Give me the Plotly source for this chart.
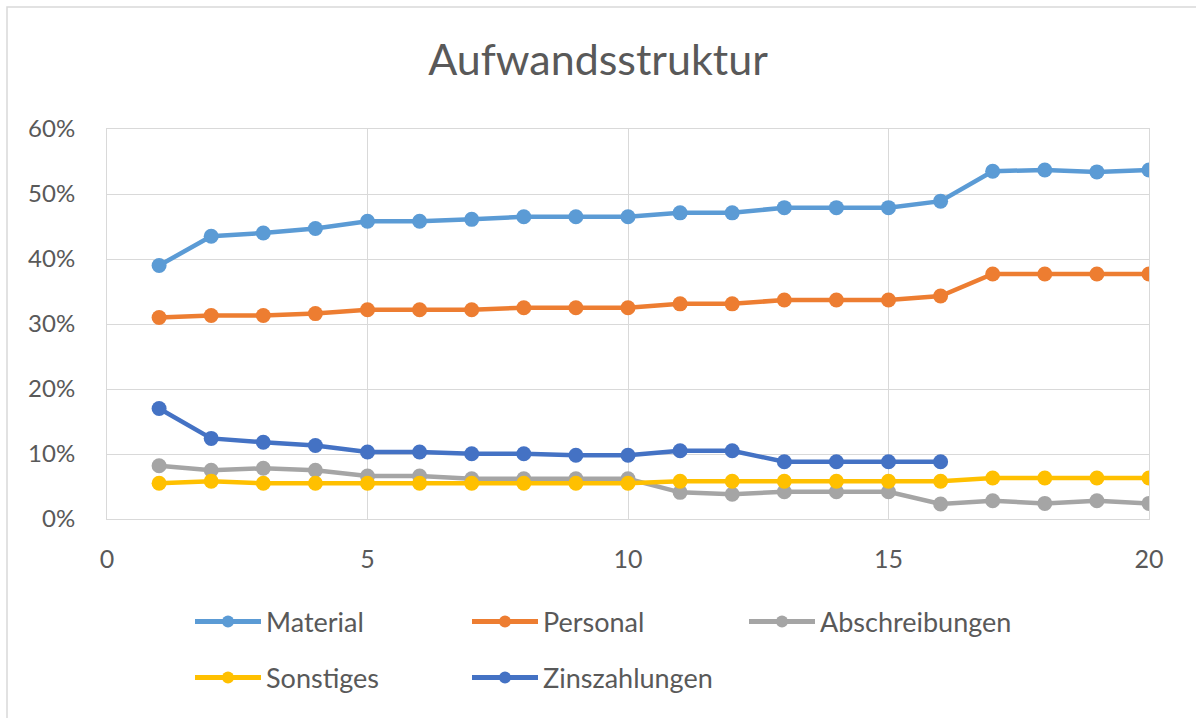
import plotly.graph_objects as go

x_vals = list(range(1, 21))

material = [39.0, 43.5, 44.0, 44.7, 45.8, 45.8, 46.1, 46.5, 46.5, 46.5,
            47.1, 47.1, 47.9, 47.9, 47.9, 48.9, 53.5, 53.7, 53.4, 53.7]
personal = [31.0, 31.3, 31.3, 31.6, 32.2, 32.2, 32.2, 32.5, 32.5, 32.5,
            33.1, 33.1, 33.7, 33.7, 33.7, 34.3, 37.7, 37.7, 37.7, 37.7]
abschreibungen = [8.2, 7.5, 7.8, 7.5, 6.6, 6.6, 6.2, 6.2, 6.2, 6.2,
                  4.1, 3.8, 4.2, 4.2, 4.2, 2.3, 2.8, 2.4, 2.8, 2.4]
sonstiges = [5.5, 5.8, 5.5, 5.5, 5.5, 5.5, 5.5, 5.5, 5.5, 5.5,
             5.8, 5.8, 5.8, 5.8, 5.8, 5.8, 6.3, 6.3, 6.3, 6.3]
zinszahlungen = [17.0, 12.4, 11.8, 11.3, 10.3, 10.3, 10.05, 10.05, 9.8, 9.8,
                 10.5, 10.5, 8.8, 8.8, 8.8, 8.8]

x_ticks = [0, 5, 10, 15, 20]
y_ticks = [0, 10, 20, 30, 40, 50, 60]
y_tick_labels = ["0%", "10%", "20%", "30%", "40%", "50%", "60%"]

series = [
    ("Material", material, "#5B9BD5", "legend"),
    ("Personal", personal, "#ED7D31", "legend"),
    ("Abschreibungen", abschreibungen, "#A5A5A5", "legend"),
    ("Sonstiges", sonstiges, "#FFC000", "legend2"),
    ("Zinszahlungen", zinszahlungen, "#4472C4", "legend2"),
]

FONT = "Lato"
TXT = "#595959"
GRID = "#D9D9D9"

fig = go.Figure()
draw_order = ["Abschreibungen", "Sonstiges", "Zinszahlungen", "Personal", "Material"]
lookup = {s[0]: s for s in series}
for name in draw_order:
    n, vals, col, lg = lookup[name]
    fig.add_trace(go.Scatter(
        x=x_vals[:len(vals)], y=vals, mode="lines+markers", name=n,
        line=dict(color=col, width=4.5), marker=dict(color=col, size=15),
        showlegend=False, hoverinfo="x+y+name"))

for n, vals, col, lg in series:
    fig.add_trace(go.Scatter(
        x=[None], y=[None], mode="lines+markers", name=n,
        line=dict(color=col, width=5), marker=dict(color=col, size=12),
        showlegend=True, legend=lg))

legend_common = dict(orientation="h", xref="container", yref="container",
                     xanchor="left", yanchor="middle",
                     itemwidth=66, entrywidth=196, entrywidthmode="pixels",
                     font=dict(size=27, color=TXT, family=FONT),
                     bgcolor="rgba(0,0,0,0)")

fig.update_layout(
    width=1196, height=718,
    paper_bgcolor="white", plot_bgcolor="white",
    margin=dict(l=107, r=47, t=129, b=199),
    font=dict(family=FONT, color=TXT, size=24),
    title=dict(text="Aufwandsstruktur", x=0.5, xanchor="center",
               y=1 - 60 / 718, yanchor="middle",
               font=dict(family=FONT, size=43, color=TXT)),
    xaxis=dict(range=[0, 20], tickmode="array", tickvals=x_ticks, showgrid=True,
               gridcolor=GRID, gridwidth=1, zeroline=False, showline=True,
               linecolor=GRID, linewidth=1, mirror=True, ticks="",
               ticklabelstandoff=18, tickfont=dict(size=25, color=TXT)),
    yaxis=dict(range=[0, 60], tickmode="array", tickvals=y_ticks,
               ticktext=y_tick_labels, showgrid=True, gridcolor=GRID, gridwidth=1,
               zeroline=False, showline=True, linecolor=GRID, linewidth=1,
               mirror=True, ticks="", ticklabelstandoff=26,
               tickfont=dict(size=24, color=TXT)),
    legend=dict(legend_common, x=190 / 1196, y=1 - 622 / 718),
    legend2=dict(legend_common, x=190 / 1196, y=1 - 678 / 718),
    shapes=[dict(type="rect", xref="paper", yref="paper",
                 x0=(7 - 107) / 1042, x1=(1205 - 107) / 1042,
                 y0=(519 - 725) / 390, y1=(519 - 7) / 390,
                 line=dict(color=GRID, width=1.5), layer="below")],
)

fig.write_html("out.html", config={"displayModeBar": False},
               post_script="document.body.style.margin='0px';document.body.style.overflow='hidden';")
